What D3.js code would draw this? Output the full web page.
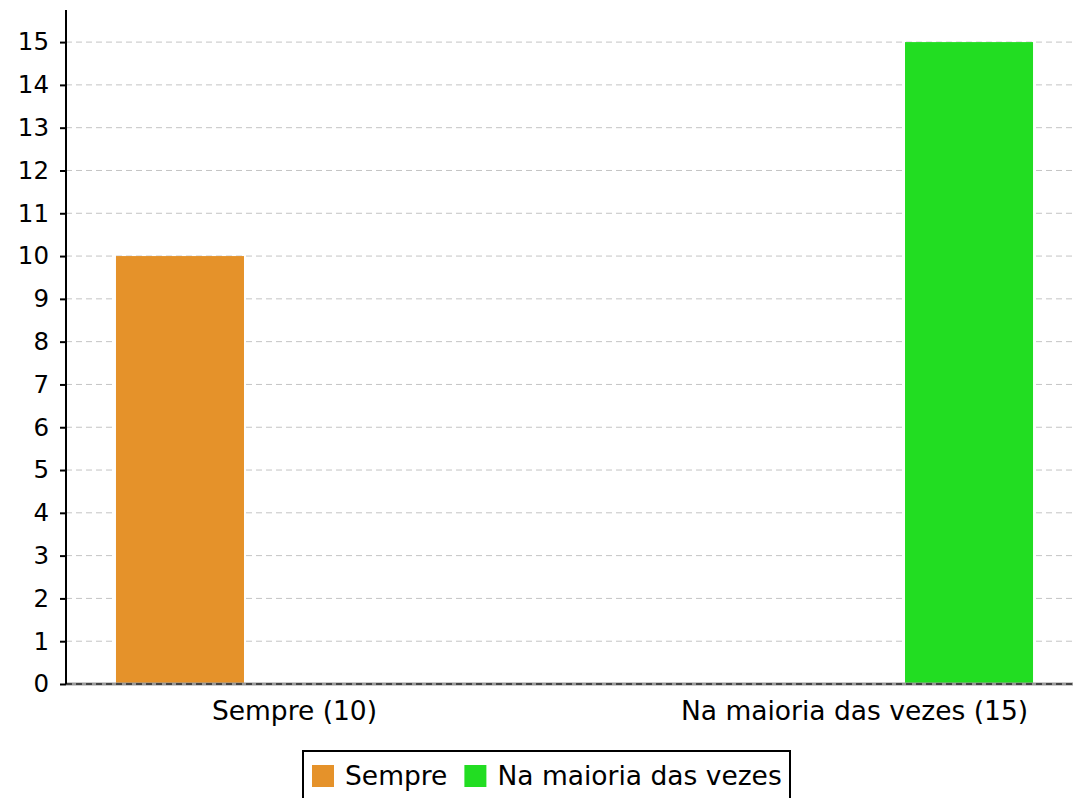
<!DOCTYPE html>
<html><head><meta charset="utf-8">
<script src="https://cdn.jsdelivr.net/npm/d3@7"></script>
<style>body{margin:0;background:#fff;} svg{display:block;font-family:"DejaVu Sans",sans-serif;}</style>
</head><body><svg id="c" width="1073" height="798"></svg>
<script>
const categories = ["Sempre (10)", "Na maioria das vezes (15)"];
const seriesNames = ["Sempre", "Na maioria das vezes"];
const seriesColors = ["#E5922A", "#22DD22"];
// values[series][category]
const values = [[10, null], [null, 15]];
const yTicks = d3.range(0, 16);

(function(){
const svg = d3.select("#c");
const mLeft = 66, mRight = 1083, mTop = 10, mBottom = 684;

const x0 = d3.scaleBand().domain(categories).range([mLeft, mRight]).paddingInner(0.6127).paddingOuter(0.0756);
const x1 = d3.scaleBand().domain(seriesNames).range([0, x0.bandwidth()]);
const xl = d3.scalePoint().domain(categories).range([mLeft, mRight]).padding(0.408);
const y = d3.scaleLinear().domain([0, 15.75]).range([mBottom, mTop]);

// grid
svg.append("g").selectAll("line").data(yTicks.filter(d => d > 0)).join("line")
  .attr("x1", mLeft).attr("x2", 1073).attr("y1", d => y(d)).attr("y2", d => y(d))
  .attr("stroke", "#c4c4c4").attr("stroke-width", 1).attr("stroke-dasharray", "6,4");

// bars
const data = [];
seriesNames.forEach((s, si) => categories.forEach((c, ci) => {
  if (values[si][ci] != null) data.push({s, si, c, v: values[si][ci]});
}));
svg.append("g").selectAll("rect").data(data).join("rect")
  .attr("x", d => x0(d.c) + x1(d.s)).attr("width", x1.bandwidth())
  .attr("y", d => y(d.v)).attr("height", d => y(0) - y(d.v))
  .attr("fill", d => seriesColors[d.si]);

// baseline
svg.append("line").attr("x1", mLeft).attr("x2", 1073).attr("y1", y(0)).attr("y2", y(0))
  .attr("stroke", "#999").attr("stroke-width", 3);
svg.append("line").attr("x1", mLeft).attr("x2", 1073).attr("y1", y(0)).attr("y2", y(0))
  .attr("stroke", "#444").attr("stroke-width", 2).attr("stroke-dasharray", "6,4");

// y axis
const ya = svg.append("g").attr("transform", `translate(${mLeft},0)`)
  .call(d3.axisLeft(y).tickValues(yTicks).tickSize(6).tickPadding(11).tickFormat(d3.format("d")));
ya.select(".domain").attr("stroke", "#000").attr("stroke-width", 2).attr("d", `M0,${mTop}V${mBottom}`);
ya.selectAll(".tick line").attr("stroke", "#000").attr("stroke-width", 2);
ya.selectAll(".tick text").attr("font-size", 24.5).attr("font-family", "DejaVu Sans").attr("fill", "#000");

// x labels
svg.append("g").selectAll("text").data(categories).join("text")
  .attr("x", d => xl(d)).attr("y", 720).attr("text-anchor", "middle")
  .attr("font-size", 26.5).attr("fill", "#000").text(d => d);

// legend
const lg = svg.append("g");
lg.append("rect").attr("x", 303).attr("y", 751).attr("width", 487).attr("height", 60)
  .attr("fill", "#fff").attr("stroke", "#000").attr("stroke-width", 2);
let lx = 312;
lg.selectAll("g.item").data(seriesNames).join("g").attr("class", "item").each(function(d, i) {
  const g = d3.select(this);
  g.append("rect").attr("x", lx).attr("y", 765).attr("width", 22).attr("height", 22).attr("fill", seriesColors[i]);
  const t = g.append("text").attr("x", lx + 33).attr("y", 785).attr("font-size", 26.5).attr("fill", "#000").text(d);
  lx += 33 + t.node().getComputedTextLength() + 17;
});
})();
</script></body></html>
